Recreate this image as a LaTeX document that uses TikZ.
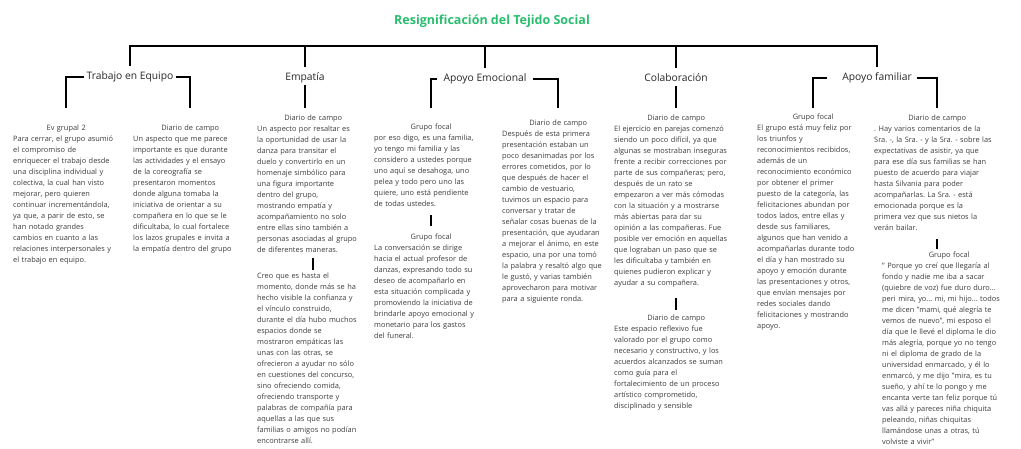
\documentclass[tikz,border=0pt]{standalone}
\usepackage{fontspec}
\setmainfont{Open Sans}
\definecolor{titgreen}{RGB}{40,190,110}
\definecolor{txtgray}{RGB}{60,60,60}
\newcommand\hd[1]{\makebox[\linewidth]{#1}\\}
\newcommand\jl[1]{\makebox[\linewidth][s]{#1}\\}
\begin{document}
\begin{tikzpicture}[x=1pt,y=-1pt,
  bar/.style={line width=2.6pt},
  conn/.style={line width=2.3pt},
  lab/.style={font=\fontsize{10.3}{12}\selectfont,text=black!85,text height=7.6pt,text depth=2.4pt,inner sep=2pt},
  blk/.style={anchor=north west,inner sep=0pt,text width=#1,align=left,text=txtgray,font=\fontsize{7.4}{11}\selectfont\frenchspacing}]
\useasboundingbox (0,0) rectangle (1021,448);
\node[font=\bfseries\fontsize{12.5}{14}\selectfont,text=titgreen] (tit) at (492,21) {Resignificación del Tejido Social};

% categorias
\node[lab] (trab) at (130,77) {Trabajo en Equipo};
\node[lab] (emp) at (305,78) {Empatía};
\node[lab] (apem) at (485,79) {Apoyo Emocional};
\node[lab] (cola) at (676,79) {Colaboración};
\node[lab] (apfa) at (877,78) {Apoyo familiar};

\coordinate (barY) at (0,46);
\coordinate (bk) at (0,108);
\draw[bar] ([yshift=4pt]trab.north) |- (barY -| apfa.north) -- ([yshift=4pt]apfa.north);
\foreach \n in {emp,apem,cola}
{
\draw[bar] (barY -| \n.north) -- ([yshift=4pt]\n.north);
}

% textos
\node[blk=106pt] (evg) at (13,125) {\hd{Ev grupal 2}Para cerrar, el grupo asumió\\ el compromiso de\\ enriquecer el trabajo desde\\ una disciplina individual y\\ colectiva, la cual han visto\\ mejorar, pero quieren\\ continuar incrementándola,\\ ya que, a parir de esto, se\\ han notado grandes\\ cambios en cuanto a las\\ relaciones interpersonales y\\ el trabajo en equipo.};
\node[blk=114pt] (diaT) at (133,125) {\hd{Diario de campo}Un aspecto que me parece\\ importante es que durante\\ las actividades y el ensayo\\ de la coreografía se\\ presentaron momentos\\ donde alguna tomaba la\\ iniciativa de orientar a su\\ compañera en lo que se le\\ dificultaba, lo cual fortalece\\ los lazos grupales e invita a\\ la empatía dentro del grupo};
\node[blk=112pt] (diaE) at (257,115) {\hd{Diario de campo}Un aspecto por resaltar es\\ la oportunidad de usar la\\ danza para transitar el\\ duelo y convertirlo en un\\ homenaje simbólico para\\ una figura importante\\ dentro del grupo,\\ mostrando empatía y\\ acompañamiento no solo\\ entre ellas sino también a\\ personas asociadas al grupo\\ de diferentes maneras.};
\node[blk=112pt] (creE) at (257,273) {Creo que es hasta el\\ momento, donde más se ha\\ hecho visible la confianza y\\ el vínculo construido,\\ durante el día hubo muchos\\ espacios donde se\\ mostraron empáticas las\\ unas con las otras, se\\ ofrecieron a ayudar no sólo\\ en cuestiones del concurso,\\ sino ofreciendo comida,\\ ofreciendo transporte y\\ palabras de compañía para\\ aquellas a las que sus\\ familias o amigos no podían\\ encontrarse allí.};
\node[blk=114pt] (gfA) at (374,124) {\hd{Grupo focal}por eso digo, es una familia,\\ yo tengo mi familia y las\\ considero a ustedes porque\\ uno aquí se desahoga, uno\\ pelea y todo pero uno las\\ quiere, uno está pendiente\\ de todas ustedes.};
\node[blk=114pt] (gfB) at (374,234) {\hd{Grupo focal}La conversación se dirige\\ hacia el actual profesor de\\ danzas, expresando todo su\\ deseo de acompañarlo en\\ esta situación complicada y\\ promoviendo la iniciativa de\\ brindarle apoyo emocional y\\ monetario para los gastos\\ del funeral.};
\node[blk=112pt] (diaA) at (502,120) {\hd{Diario de campo}Después de esta primera\\ presentación estaban un\\ poco desanimadas por los\\ errores cometidos, por lo\\ que después de hacer el\\ cambio de vestuario,\\ tuvimos un espacio para\\ conversar y tratar de\\ señalar cosas buenas de la\\ presentación, que ayudaran\\ a mejorar el ánimo, en este\\ espacio, una por una tomó\\ la palabra y resaltó algo que\\ le gustó, y varias también\\ aprovecharon para motivar\\ para a siguiente ronda.};
\node[blk=124pt] (diaC) at (614,115) {\hd{Diario de campo}El ejercicio en parejas comenzó\\ siendo un poco difícil, ya que\\ algunas se mostraban inseguras\\ frente a recibir correcciones por\\ parte de sus compañeras; pero,\\ después de un rato se\\ empezaron a ver más cómodas\\ con la situación y a mostrarse\\ más abiertas para dar su\\ opinión a las compañeras. Fue\\ posible ver emoción en aquellas\\ que lograban un paso que se\\ les dificultaba y también en\\ quienes pudieron explicar y\\ ayudar a su compañera.};
\node[blk=124pt] (diaR) at (614,315) {\hd{Diario de campo}Este espacio reflexivo fue\\ valorado por el grupo como\\ necesario y constructivo, y los\\ acuerdos alcanzados se suman\\ como guía para el\\ fortalecimiento de un proceso\\ artístico comprometido,\\ disciplinado y sensible};
\node[blk=112pt] (gfF) at (757,114) {\hd{Grupo focal}El grupo está muy feliz por\\ los triunfos y\\ reconocimientos recibidos,\\ además de un\\ reconocimiento económico\\ por obtener el primer\\ puesto de la categoría, las\\ felicitaciones abundan por\\ todos lados, entre ellas y\\ desde sus familiares,\\ algunos que han venido a\\ acompañarlas durante todo\\ el día y han mostrado su\\ apoyo y emoción durante\\ las presentaciones y otros,\\ que envían mensajes por\\ redes sociales dando\\ felicitaciones y mostrando\\ apoyo.};
\node[blk=126pt] (diaF) at (874,115) {\hd{Diario de campo}\jl{. Hay varios comentarios de la}\jl{Sra. -, la Sra. - y la Sra. - sobre las}\jl{expectativas de asistir, ya que}\jl{para ese día sus familias se han}\jl{puesto de acuerdo para viajar}\jl{hasta Silvania para poder}\jl{acompañarlas. La Sra. - está}\jl{emocionada porque es la}\jl{primera vez que sus nietos la}verán bailar.};
\node[blk=134pt] (gfH) at (882,252) {\hd{Grupo focal}" Porque yo creí que llegaría al\\ fondo y nadie me iba a sacar\\ (quiebre de voz) fue duro duro...\\ peri mira, yo... mi, mi hijo... todos\\ me dicen "mami, qué alegría te\\ vemos de nuevo", mi esposo el\\ día que le llevé el diploma le dio\\ más alegría, porque yo no tengo\\ ni el diploma de grado de la\\ universidad enmarcado, y él lo\\ enmarcó, y me dijo "mira, es tu\\ sueño, y ahí te lo pongo y me\\ encanta verte tan feliz porque tú\\ vas allá y pareces niña chiquita\\ peleando, niñas chiquitas\\ llamándose unas a otras, tú\\ volviste a vivir"};

% conectores
\draw[conn] (trab.west) -| (evg.north |- bk);
\draw[conn] (trab.east) -| (diaT.north |- bk);
\draw[conn] (emp.south) -- (emp.south |- bk);
\draw[conn,shorten <=4pt] (apem.west) -| (gfA.north |- bk);
\draw[conn,shorten <=4pt] (apem.east) -| (diaA.north |- bk);
\draw[conn] (cola.south) -- (cola.south |- bk);
\draw[conn,shorten <=13pt] (apfa.west) -| (gfF.north |- bk);
\draw[conn,shorten <=3pt] (apfa.east) -| (diaF.north |- bk);
\draw[conn,shorten <=5pt,shorten >=3pt] (diaE.south) -- (creE.north);
\draw[conn,shorten <=8pt,shorten >=8pt] (gfA.south) -- (gfB.north);
\draw[conn,shorten <=10pt,shorten >=5pt] (diaC.south) -- (diaR.north);
\draw[conn,shorten <=8pt,shorten >=3pt] (diaF.south) -- (diaF.south |- gfH.north);
\end{tikzpicture}
\end{document}
